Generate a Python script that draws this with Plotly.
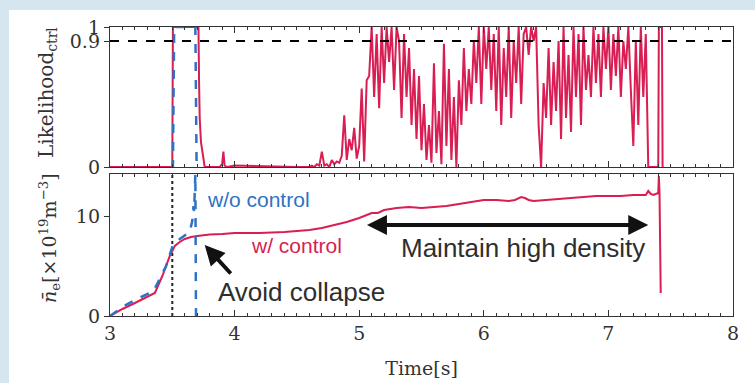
import plotly.graph_objects as go

# ---------------- data ----------------
# Top panel: control likelihood (w/ control), early explicit part
lik_t_early = [3.0, 3.50, 3.505, 3.70, 3.71, 3.715, 3.72, 3.73, 3.745, 3.76, 3.88, 3.90, 3.91, 3.92, 3.94, 4.0, 4.5, 4.58]
lik_v_early = [0.0, 0.0, 1.0, 1.0, 1.0, 0.6, 0.35, 0.18, 0.08, 0.0, 0.0, 0.02, 0.11, 0.01, 0.0, 0.01, 0.0, 0.0]

# noisy phase, sampled every 0.02 s from 4.60 s
lik_noisy_t0 = 4.60
lik_noisy_dt = 0.02
lik_noisy_v = [
    0.0, 0.01, 0.0, 0.02, 0.01, 0.11, 0.01, 0.02, 0.0, 0.05,
    0.02, 0.04, 0.03, 0.08, 0.37, 0.05, 0.2, 0.12, 0.28, 0.06,
    0.15, 0.56, 0.04, 0.62, 0.65, 1.0, 0.5, 0.95, 0.42, 1.0,
    0.6, 1.0, 0.75, 1.0, 0.55, 1.0, 0.9, 0.35, 0.95, 0.5,
    0.85, 0.3, 0.7, 0.2, 0.65, 0.12, 0.45, 0.05, 0.3, 0.03,
    0.74, 0.1, 0.4, 0.02, 0.88, 0.15, 0.7, 0.05, 0.5, 0.0,
    0.62, 0.3, 0.85, 0.4, 0.7, 0.45, 0.9, 0.6, 1.0, 0.45,
    1.0, 0.7, 1.0, 0.55, 0.95, 0.4, 1.0, 0.3, 0.85, 0.5,
    1.0, 0.35, 0.9, 0.6, 1.0, 0.45, 0.95, 1.0, 0.8, 1.0,
    0.9, 1.0, 0.3, 0.0, 0.6, 0.35, 0.85, 0.3, 0.75, 0.4,
    0.9, 0.2, 1.0, 0.35, 0.8, 0.25, 1.0, 0.5, 0.95, 0.3,
    1.0, 0.55, 0.8, 0.5, 1.0, 0.6, 0.95, 0.5, 1.0, 0.7,
    1.0, 0.55, 0.95, 0.65, 1.0, 0.5, 0.9, 0.7, 1.0, 0.55,
    0.15, 0.9, 0.3, 1.0, 0.5, 0.95, 0.0, 0.0,
]
lik_t_tail = [7.38, 7.40, 7.405, 7.43, 7.435]
lik_v_tail = [0.0, 0.0, 1.0, 1.0, 0.0]

# Top panel: likelihood without control
lik_wo_t = [3.49, 3.505, 3.515, 3.685, 3.695, 3.70]
lik_wo_v = [0.0, 0.0, 1.0, 1.0, 0.0, 0.0]

threshold = 0.9

# Bottom panel: line-averaged density [1e19 m^-3]
ne_t = [3.0, 3.1, 3.2, 3.3, 3.36, 3.42, 3.48, 3.52, 3.56, 3.6, 3.65, 3.7, 3.75, 3.8,
        3.9, 4.0, 4.2, 4.4, 4.6, 4.7, 4.8, 4.9, 5.0, 5.1, 5.15, 5.2, 5.3, 5.4, 5.5,
        5.6, 5.7, 5.8, 5.9, 6.0, 6.1, 6.2, 6.25, 6.3, 6.33, 6.36, 6.4, 6.5, 6.6,
        6.7, 6.8, 6.9, 7.0, 7.1, 7.2, 7.3, 7.32, 7.34, 7.36, 7.38, 7.40, 7.405,
        7.41, 7.42]
ne_v = [0.0, 0.7, 1.3, 1.9, 2.3, 4.0, 6.0, 7.0, 7.4, 7.7, 7.9, 8.0, 8.1, 8.15,
        8.2, 8.3, 8.3, 8.4, 8.6, 8.8, 9.1, 9.4, 9.8, 10.3, 10.3, 10.6, 10.8, 10.9, 10.8,
        10.9, 11.0, 11.2, 11.4, 11.6, 11.6, 11.5, 11.6, 11.9, 11.8, 11.6, 11.5, 11.6, 11.7,
        11.8, 11.9, 12.0, 12.0, 12.0, 12.1, 12.1, 12.5, 12.2, 12.1, 12.2, 12.3, 14.0,
        12.4, 2.3]

ne_wo_t = [3.0, 3.1, 3.2, 3.35, 3.45, 3.5, 3.55, 3.6, 3.64, 3.66, 3.67, 3.675, 3.68, 3.685, 3.69]
ne_wo_v = [0.0, 0.9, 1.6, 2.5, 5.0, 6.9, 7.6, 8.0, 8.4, 9.5, 11.0, 10.5, 12.5, 14.2, 0.0]

x_ticks = [3, 4, 5, 6, 7, 8]

# ---------------- figure ----------------
RED = "#d81e52"
BLUE = "#2f72c4"
AX = "#333333"

W, H = 755, 383
ML, MR, MT, MB = 110, 22, 27, 67
PW, PH = W - ML - MR, H - MT - MB


def px_x(p):
    return (p - ML) / PW


def px_y(p):
    return (H - MB - p) / PH


lik_t = list(lik_t_early)
lik_v = list(lik_v_early)
for i, v in enumerate(lik_noisy_v):
    lik_t.append(round(lik_noisy_t0 + i * lik_noisy_dt, 3))
    lik_v.append(v)
lik_t += lik_t_tail
lik_v += lik_v_tail

fig = go.Figure()
fig.add_trace(go.Scatter(x=lik_t, y=lik_v, mode="lines", line=dict(color=RED, width=2),
                         xaxis="x", yaxis="y", showlegend=False))
fig.add_trace(go.Scatter(x=lik_wo_t, y=lik_wo_v, mode="lines",
                         line=dict(color=BLUE, width=2.5, dash="dash"),
                         xaxis="x", yaxis="y", showlegend=False))
fig.add_trace(go.Scatter(x=[3, 8], y=[threshold, threshold], mode="lines",
                         line=dict(color="black", width=2, dash="dash"),
                         xaxis="x", yaxis="y", showlegend=False))

fig.add_trace(go.Scatter(x=[3.5, 3.5], y=[0, 14.2], mode="lines",
                         line=dict(color="#222222", width=2, dash="dot"),
                         xaxis="x2", yaxis="y2", showlegend=False))
fig.add_trace(go.Scatter(x=ne_t, y=ne_v, mode="lines", line=dict(color=RED, width=2),
                         xaxis="x2", yaxis="y2", showlegend=False))
fig.add_trace(go.Scatter(x=ne_wo_t, y=ne_wo_v, mode="lines",
                         line=dict(color=BLUE, width=2.5, dash="dash"),
                         xaxis="x2", yaxis="y2", showlegend=False))

tickfont = dict(family="DejaVu Serif", size=19, color=AX)
xcommon = dict(range=[3, 8], tickvals=x_ticks, ticks="inside", ticklen=6, tickwidth=1,
               tickcolor=AX, showline=True, linecolor=AX, linewidth=1.2, mirror="ticks",
               showgrid=False, zeroline=False, automargin=False,
               minor=dict(dtick=0.1, ticks="inside", ticklen=3, tickcolor=AX, showgrid=False))
ycommon = dict(ticks="outside", ticklen=5, tickcolor=AX, showline=True, linecolor=AX,
               linewidth=1.2, mirror=True, showgrid=False, zeroline=False, tickfont=tickfont,
               automargin=False)

top_dom = [px_y(167), 1.0]
bot_dom = [0.0, px_y(174)]

fig.update_layout(
    width=W, height=H,
    margin=dict(l=ML, r=MR, t=MT, b=MB, autoexpand=False),
    paper_bgcolor="#d6e6f0",
    plot_bgcolor="white",
    hovermode=False,
    xaxis=dict(**xcommon, domain=[0, 1], anchor="y", showticklabels=False),
    yaxis=dict(**ycommon, domain=top_dom, anchor="x", range=[0, 1],
               tickvals=[0, 0.9, 1], ticktext=["0", "0.9", "1"]),
    xaxis2=dict(**xcommon, domain=[0, 1], anchor="y2", tickfont=tickfont,
                title=dict(text="Time[s]", font=dict(family="DejaVu Serif", size=19, color=AX),
                           standoff=18)),
    yaxis2=dict(**ycommon, domain=bot_dom, anchor="x2", range=[0, 14.2],
                tickvals=[0, 10], ticktext=["0", "10"]),
)

fig.add_shape(type="rect", xref="paper", yref="paper",
              x0=px_x(9), x1=px_x(W + 5), y0=px_y(H + 5), y1=px_y(10),
              fillcolor="white", line=dict(width=0), layer="below")

sans = "Liberation Sans"
ann = []
ann.append(dict(xref="paper", yref="paper", x=px_x(47), y=px_y(93), textangle=-90,
                xanchor="center", yanchor="middle",
                text="Likelihood<sub>ctrl</sub>", showarrow=False,
                font=dict(family="DejaVu Serif", size=20, color=AX)))
ann.append(dict(xref="paper", yref="paper", x=px_x(49), y=px_y(238), textangle=-90,
                xanchor="center", yanchor="middle",
                text="<i>n̄</i><sub>e</sub>[×10<sup>19</sup>m<sup>−3</sup>]", showarrow=False,
                font=dict(family="DejaVu Serif", size=19, color=AX)))
ann.append(dict(xref="x2", yref="y2", x=3.762, y=11.7, xanchor="left", text="w/o control",
                showarrow=False, font=dict(family=sans, size=21, color=BLUE)))
ann.append(dict(xref="x2", yref="y2", x=4.116, y=7.1, xanchor="left", text="w/ control",
                showarrow=False, font=dict(family=sans, size=21, color=RED)))
ann.append(dict(xref="x2", yref="y2", x=4.54, y=2.4, text="Avoid collapse",
                showarrow=False, font=dict(family=sans, size=26, color="#2e2e2e")))
ann.append(dict(xref="x2", yref="y2", x=6.315, y=6.8, text="Maintain high density",
                showarrow=False, font=dict(family=sans, size=26, color="#2e2e2e")))
ann.append(dict(xref="x2", yref="y2", x=7.32, y=9.1, ax=5.05, ay=9.1, axref="x2", ayref="y2",
                text="", showarrow=True, arrowhead=2, arrowside="end+start", arrowsize=1,
                arrowwidth=4, arrowcolor="#111111", standoff=0, startstandoff=0))
ann.append(dict(xref="x2", yref="y2", x=3.76, y=7.1, ax=3.98, ay=4.1, axref="x2", ayref="y2",
                text="", showarrow=True, arrowhead=2, arrowsize=1,
                arrowwidth=4, arrowcolor="#111111", standoff=0))
fig.update_layout(annotations=ann)

fig.write_html("out.html", config={"displayModeBar": False, "staticPlot": True},
               post_script="document.body.style.margin='0';document.body.style.padding='0';")
